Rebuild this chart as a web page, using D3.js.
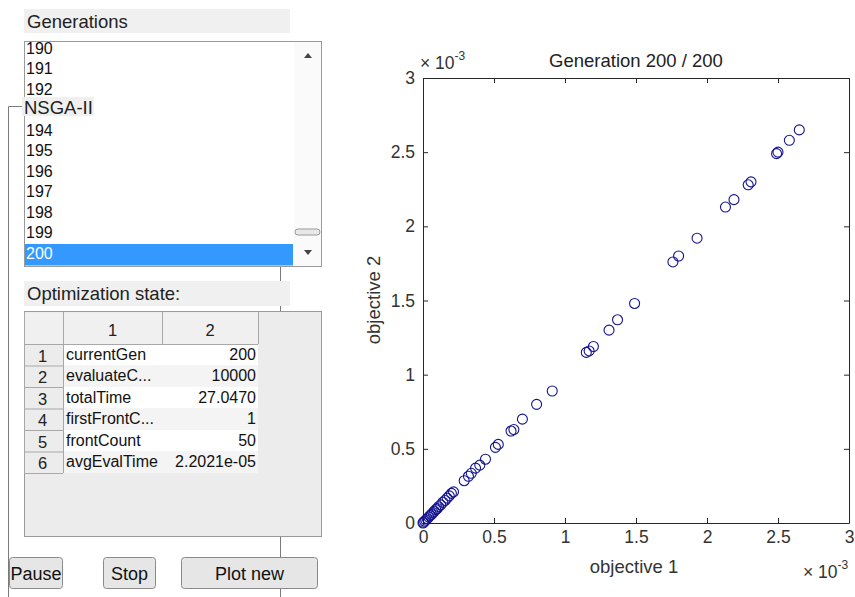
<!DOCTYPE html>
<html>
<head>
<meta charset="utf-8">
<script src="https://cdn.jsdelivr.net/npm/d3@7"></script>
<style>
  body { margin: 0; background: #fff; }
  svg { display: block; }
  text { font-family: "Liberation Sans", Arial, sans-serif; }
</style>
</head>
<body>
<div id="chart"></div>
<script>
// objective values in units of 1e-3 (the axes show "x 10^-3")
const objective1 = [0.000, 0.004, 0.012, 0.020, 0.030, 0.040, 0.050, 0.060, 0.070, 0.080,
  0.090, 0.100, 0.110, 0.125, 0.140, 0.155, 0.170, 0.185, 0.200, 0.215,
  0.290, 0.320, 0.340, 0.370, 0.400, 0.440, 0.510, 0.530, 0.620, 0.640,
  0.700, 0.800, 0.910, 1.150, 1.170, 1.200, 1.310, 1.370, 1.490, 1.760,
  1.800, 1.930, 2.130, 2.190, 2.290, 2.310, 2.490, 2.500, 2.580, 2.650];
const objective2 = [0.000, 0.005, 0.012, 0.020, 0.029, 0.040, 0.050, 0.058, 0.070, 0.079,
  0.090, 0.098, 0.110, 0.122, 0.140, 0.152, 0.168, 0.183, 0.200, 0.210,
  0.285, 0.315, 0.335, 0.370, 0.390, 0.430, 0.510, 0.530, 0.620, 0.630,
  0.700, 0.800, 0.890, 1.150, 1.160, 1.190, 1.300, 1.370, 1.480, 1.760,
  1.800, 1.920, 2.130, 2.180, 2.280, 2.300, 2.490, 2.500, 2.580, 2.650];
const axisTicks = [0, 0.5, 1, 1.5, 2, 2.5, 3];

const generations = d3.range(190, 201);
const stateNames = ["currentGen", "evaluateC...", "totalTime", "firstFrontC...", "frontCount", "avgEvalTime"];
const stateValues = ["200", "10000", "27.0470", "1", "50", "2.2021e-05"];
const buttonLabels = ["Pause", "Stop", "Plot new"];

const W = 855, H = 597;
const svg = d3.select("#chart").append("svg").attr("width", W).attr("height", H);
svg.append("rect").attr("width", W).attr("height", H).attr("fill", "#fff");

// ---------- left GUI panel ----------
const gui = svg.append("g");
const gray = "#f0f0f0";
const labelSize = 18.5;

// "Generations" label
gui.append("rect").attr("x", 24).attr("y", 9).attr("width", 266).attr("height", 24).attr("fill", gray);
gui.append("text").attr("x", 27).attr("y", 28).attr("font-size", labelSize).attr("fill", "#222").text("Generations");

// panel frame (NSGA-II)
gui.append("path").attr("d", "M22,106.5 H8.5 V597").attr("fill", "none").attr("stroke", "#7a7a7a");
gui.append("line").attr("x1", 280.5).attr("x2", 280.5).attr("y1", 266).attr("y2", 597).attr("stroke", "#7a7a7a");

// listbox
gui.append("clipPath").attr("id", "listClip")
  .append("rect").attr("x", 25).attr("y", 42).attr("width", 268).attr("height", 224);
gui.append("rect").attr("x", 24.5).attr("y", 41.5).attr("width", 297).attr("height", 225)
  .attr("fill", "#fff").attr("stroke", "#9a9a9a");
const listY = d => 53.5 + (d - 190) * 20.5;
const list = gui.append("g").attr("clip-path", "url(#listClip)");
list.append("rect").attr("x", 25).attr("y", listY(200) - 14.5).attr("width", 268).attr("height", 21.5).attr("fill", "#3399ff");
list.selectAll("text").data(generations).enter().append("text")
  .attr("x", 26).attr("y", d => listY(d)).attr("font-size", 16)
  .attr("fill", d => d === 200 ? "#fff" : "#111").text(d => d);

// scrollbar
gui.append("rect").attr("x", 294).attr("y", 42).attr("width", 27).attr("height", 224).attr("fill", "#fafafa");
gui.append("path").attr("d", "M304,58 L308,53 L312,58 Z").attr("fill", "#444");
gui.append("path").attr("d", "M304,250 L308,255 L312,250 Z").attr("fill", "#444");
gui.append("rect").attr("x", 295).attr("y", 229).attr("width", 25).attr("height", 6).attr("rx", 3)
  .attr("fill", "#e8e8e8").attr("stroke", "#9a9a9a");

// NSGA-II title over list
gui.append("rect").attr("x", 22).attr("y", 97).attr("width", 72).attr("height", 19).attr("fill", gray);
gui.append("text").attr("x", 24).attr("y", 114).attr("font-size", labelSize).attr("fill", "#222").text("NSGA-II");

// "Optimization state:" label
gui.append("rect").attr("x", 24).attr("y", 281).attr("width", 266).attr("height", 25).attr("fill", gray);
gui.append("text").attr("x", 27).attr("y", 300).attr("font-size", labelSize).attr("fill", "#222").text("Optimization state:");

// table
const tX = [24, 63, 162, 258], tTop = 311.5, headH = 32.5, rowH = 21.5;
gui.append("rect").attr("x", 24.5).attr("y", tTop).attr("width", 297).attr("height", 225)
  .attr("fill", "#ececec").attr("stroke", "#9a9a9a");
const rowTop = i => tTop + headH + i * rowH;
// header
gui.append("rect").attr("x", tX[0] + 1).attr("y", tTop + 1).attr("width", tX[3] - tX[0] - 1).attr("height", headH - 1).attr("fill", gray);
[1, 2].forEach(c => {
  gui.append("text").attr("x", (tX[c] + tX[c + 1]) / 2).attr("y", tTop + 24).attr("text-anchor", "middle")
    .attr("font-family", "DejaVu Sans").attr("font-size", 16.5).attr("fill", "#222").text(c);
});
const rows = gui.selectAll("g.row").data(stateNames).enter().append("g").attr("class", "row");
rows.append("rect").attr("x", tX[1]).attr("y", (d, i) => rowTop(i)).attr("width", tX[3] - tX[1]).attr("height", rowH)
  .attr("fill", (d, i) => i % 2 === 0 ? "#fff" : "#f4f4f4");
rows.append("text").attr("x", (tX[0] + tX[1]) / 2 - 1).attr("y", (d, i) => rowTop(i) + 17.5).attr("text-anchor", "middle")
  .attr("font-family", "DejaVu Sans").attr("font-size", 16.5).attr("fill", "#222").text((d, i) => i + 1);
rows.append("text").attr("x", tX[1] + 3).attr("y", (d, i) => rowTop(i) + 15.5)
  .attr("font-size", 16).attr("fill", "#111").text(d => d);
rows.append("text").attr("x", tX[3] - 2).attr("y", (d, i) => rowTop(i) + 15.5).attr("text-anchor", "end")
  .attr("font-size", 16).attr("fill", "#111").text((d, i) => stateValues[i]);
// grid lines
const gridBottom = rowTop(stateNames.length);
const gl = gui.append("g").attr("stroke", "#a8a8a8").attr("fill", "none");
tX.forEach(x => gl.append("line").attr("x1", x + 0.5).attr("x2", x + 0.5).attr("y1", tTop).attr("y2", x === tX[0] || x === tX[1] ? gridBottom : tTop + headH));
gl.append("line").attr("x1", tX[0]).attr("x2", tX[3]).attr("y1", tTop + headH + 0.5).attr("y2", tTop + headH + 0.5);
d3.range(1, stateNames.length + 1).forEach(i => gl.append("line")
  .attr("x1", tX[0]).attr("x2", tX[1]).attr("y1", rowTop(i) + 0.5).attr("y2", rowTop(i) + 0.5));

// buttons
const btnX = [[9.5, 53], [103.5, 52], [181.5, 136]];
buttonLabels.forEach((b, i) => {
  gui.append("rect").attr("x", btnX[i][0]).attr("y", 557.5).attr("width", btnX[i][1]).attr("height", 31).attr("rx", 3)
    .attr("fill", "#e6e6e6").attr("stroke", "#8a8a8a");
  gui.append("text").attr("x", btnX[i][0] + btnX[i][1] / 2).attr("y", 579.5).attr("text-anchor", "middle")
    .attr("font-size", 18).attr("fill", "#111").text(b);
});

// ---------- scatter plot ----------
const plot = { left: 423, right: 849, top: 78, bottom: 523 };
const x = d3.scaleLinear().domain([0, 3]).range([plot.left, plot.right]);
const y = d3.scaleLinear().domain([0, 3]).range([plot.bottom, plot.top]);
const fmt = d => String(d);
const ink = "#262626";

const axisStyle = g => {
  g.selectAll("path.domain").attr("stroke", ink);
  g.selectAll(".tick line").attr("stroke", ink);
  g.selectAll(".tick text").attr("font-family", "Liberation Sans, Arial, sans-serif").attr("font-size", 17.5).attr("fill", "#333");
};
svg.append("g").attr("transform", `translate(0,${plot.bottom})`)
  .call(d3.axisBottom(x).tickValues(axisTicks).tickFormat(fmt).tickSizeInner(-5).tickSizeOuter(0).tickPadding(8))
  .call(axisStyle);
svg.append("g").attr("transform", `translate(0,${plot.top})`)
  .call(d3.axisTop(x).tickValues(axisTicks).tickFormat("").tickSizeInner(-5).tickSizeOuter(0))
  .call(axisStyle);
svg.append("g").attr("transform", `translate(${plot.left},0)`)
  .call(d3.axisLeft(y).tickValues(axisTicks).tickFormat(fmt).tickSizeInner(-5).tickSizeOuter(0).tickPadding(8))
  .call(axisStyle);
svg.append("g").attr("transform", `translate(${plot.right},0)`)
  .call(d3.axisRight(y).tickValues(axisTicks).tickFormat("").tickSizeInner(-5).tickSizeOuter(0))
  .call(axisStyle);

// points
svg.append("g").selectAll("circle").data(objective1).enter().append("circle")
  .attr("cx", d => x(d)).attr("cy", (d, i) => y(objective2[i])).attr("r", 5)
  .attr("fill", "none").attr("stroke", "#141490").attr("stroke-width", 1.1);

// titles and labels
svg.append("text").attr("x", 636).attr("y", 67).attr("text-anchor", "middle").attr("font-size", 18.5).attr("fill", "#222")
  .text("Generation 200 / 200");
svg.append("text").attr("x", 634).attr("y", 573).attr("text-anchor", "middle").attr("font-size", 18.5).attr("fill", "#333")
  .text("objective 1");
svg.append("text").attr("transform", "translate(380,300) rotate(-90)").attr("text-anchor", "middle")
  .attr("font-size", 18.5).attr("fill", "#333").text("objective 2");

const expLabel = (xx, yy) => {
  const t = svg.append("text").attr("x", xx).attr("y", yy).attr("font-size", 17.5).attr("fill", "#333");
  t.append("tspan").text("\u00d7 10");
  t.append("tspan").attr("dy", -9).attr("font-size", 12).text("-3");
};
expLabel(420, 69);
expLabel(803, 578);
</script>
</body>
</html>
